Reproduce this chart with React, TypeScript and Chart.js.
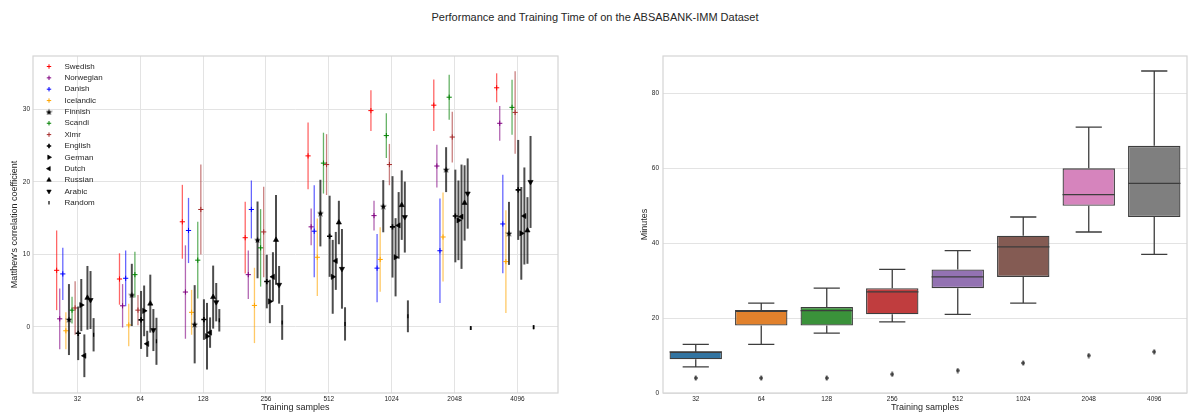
import React, { useEffect, useRef } from 'react';
import { Chart, registerables } from 'chart.js';
import { drawPoint } from 'chart.js/helpers';

Chart.register(...registerables);

// ---------- data ----------
const categories = ['32', '64', '128', '256', '512', '1024', '2048', '4096'];
const leftYTicks = [0, 10, 20, 30];
const rightYTicks = [0, 20, 40, 60, 80];

const seriesNames = ['Swedish', 'Norwegian', 'Danish', 'Icelandic', 'Finnish', 'Scandi', 'Xlmr', 'English', 'German', 'Dutch', 'Russian', 'Arabic', 'Random'];

const swedishMean = [7.8, 6.6, 14.5, 12.3, 23.6, 29.85, 30.6, 33.0];
const swedishErr = [5.5, 3.55, 5.1, 4.95, 4.6, 2.8, 3.55, 2.0];
const norwegianMean = [1.1, 2.9, 4.8, 7.2, 13.8, 15.35, 22.2, 28.1];
const norwegianErr = [4.2, 3.0, 6.45, 3.35, 2.55, 2.05, 2.95, 2.4];
const danishMean = [7.3, 6.7, 13.3, 16.2, 13.2, 8.1, 10.5, 14.2];
const danishErr = [3.6, 3.85, 4.5, 4.0, 6.35, 4.7, 7.2, 6.8];
const icelandicMean = [-0.55, 0.25, 2.0, 2.95, 9.6, 9.3, 12.4, 9.0];
const icelandicErr = [2.55, 2.95, 3.1, 5.2, 5.35, 4.45, 6.15, 7.1];
const finnishMean = [1.0, 4.4, 0.35, 12.0, 15.7, 16.65, 21.7, 12.9];
const finnishErr = [4.9, 4.3, 5.4, 5.3, 4.6, 3.6, 3.1, 4.35];
const scandiMean = [2.3, 7.2, 9.2, 10.9, 22.6, 26.4, 31.7, 30.3];
const scandiErr = [1.85, 3.15, 5.3, 5.35, 4.2, 3.1, 3.1, 3.8];
const xlmrMean = [2.6, 2.3, 16.2, 13.1, 22.4, 22.4, 26.2, 29.6];
const xlmrErr = [3.7, 2.1, 6.2, 6.25, 4.2, 2.85, 3.5, 5.7];
const englishMean = [-0.9, 0.95, 1.0, 6.25, 12.5, 13.8, 15.3, 18.9];
const englishErr = [3.7, 4.0, 2.8, 3.7, 5.6, 7.0, 6.4, 6.9];
const germanMean = [3.0, 2.2, -1.3, 3.5, 6.9, 9.6, 14.7, 12.9];
const germanErr = [3.6, 3.5, 4.6, 3.0, 5.1, 5.4, 5.5, 6.4];
const dutchMean = [-4.0, -2.35, -0.8, 6.9, 9.1, 14.0, 15.2, 15.3];
const dutchErr = [2.95, 1.8, 2.1, 3.4, 4.0, 4.6, 7.2, 6.7];
const russianMean = [4.0, 3.2, 4.1, 12.0, 14.4, 16.8, 17.1, 13.3];
const russianErr = [4.4, 4.0, 4.35, 6.2, 3.0, 4.8, 5.2, 4.6];
const arabicMean = [3.7, -0.45, 3.4, 5.8, 8.0, 15.15, 18.4, 20.0];
const arabicErr = [4.0, 2.9, 2.65, 2.6, 5.5, 4.9, 4.85, 6.35];
const randomMean = [-1.1, -2.0, 0.9, 0.6, 0.4, 1.45, -0.18, -0.05];
const randomErr = [2.3, 3.25, 1.55, 2.4, 2.3, 2.2, 0.25, 0.28];

const boxWhiskerLow = [7, 13, 16, 19, 21, 24, 43, 37];
const boxQ1 = [9, 18, 18, 21, 28, 31, 50, 47];
const boxMedian = [11, 22, 22, 27, 31, 39, 53, 56];
const boxQ3 = [11, 22, 23, 28, 33, 42, 60, 66];
const boxWhiskerHigh = [13, 24, 28, 33, 38, 47, 71, 86];
const boxOutlier = [4, 4, 4, 5, 6, 8, 10, 11];

// ---------- styles ----------
const seriesMeans = [swedishMean, norwegianMean, danishMean, icelandicMean, finnishMean, scandiMean, xlmrMean, englishMean, germanMean, dutchMean, russianMean, arabicMean, randomMean];
const seriesErrs = [swedishErr, norwegianErr, danishErr, icelandicErr, finnishErr, scandiErr, xlmrErr, englishErr, germanErr, dutchErr, russianErr, arabicErr, randomErr];
const seriesColors = ['#ff0000', '#800080', '#0000ff', '#ffa500', '#000000', '#008000', '#a52a2a', '#000000', '#000000', '#000000', '#000000', '#000000', '#000000'];
const seriesMarkers = ['cross', 'cross', 'cross', 'cross', 'star', 'cross', 'cross', 'plus', 'right', 'left', 'up', 'down', 'vline'];
const boxColors = ['#3274a1', '#e1812c', '#3a923a', '#c03d3e', '#9372b2', '#845b53', '#d684bd', '#7f7f7f'];

const FONT = "'Liberation Sans', Arial, sans-serif";
const TEXT = '#262626';
const GRID = '#e3e3e3';
const FRAME = '#d4d4d4';
const EDGE = '#3d3d3d';

function rgba(hex: string, a: number) {
  const n = parseInt(hex.slice(1), 16);
  return `rgba(${(n >> 16) & 255},${(n >> 8) & 255},${n & 255},${a})`;
}

function makeStar(size: number, color: string) {
  const c = document.createElement('canvas');
  c.width = size;
  c.height = size;
  const ctx = c.getContext('2d')!;
  const cx = size / 2, cy = size / 2 + 0.4, R = size / 2, r = R * 0.42;
  ctx.beginPath();
  for (let k = 0; k < 10; k++) {
    const rad = k % 2 === 0 ? R : r;
    const a = -Math.PI / 2 + (k * Math.PI) / 5;
    const px = cx + rad * Math.cos(a), py = cy + rad * Math.sin(a);
    if (k === 0) ctx.moveTo(px, py); else ctx.lineTo(px, py);
  }
  ctx.closePath();
  ctx.fillStyle = color;
  ctx.fill();
  return c;
}

function makeThinDiamond(w: number, h: number, color: string) {
  const c = document.createElement('canvas');
  c.width = w;
  c.height = h;
  const ctx = c.getContext('2d')!;
  ctx.beginPath();
  ctx.moveTo(w / 2, 0);
  ctx.lineTo(w, h / 2);
  ctx.lineTo(w / 2, h);
  ctx.lineTo(0, h / 2);
  ctx.closePath();
  ctx.fillStyle = color;
  ctx.fill();
  return c;
}

function markerOptions(m: string, star: HTMLCanvasElement) {
  switch (m) {
    case 'star': return { pointStyle: star as any, rotation: 0, radius: 3.5, borderWidth: 0 };
    case 'plus': return { pointStyle: 'cross', rotation: 0, radius: 2.6, borderWidth: 1.6 };
    case 'right': return { pointStyle: 'triangle', rotation: 90, radius: 3, borderWidth: 0.6 };
    case 'left': return { pointStyle: 'triangle', rotation: -90, radius: 3, borderWidth: 0.6 };
    case 'up': return { pointStyle: 'triangle', rotation: 0, radius: 3, borderWidth: 0.6 };
    case 'down': return { pointStyle: 'triangle', rotation: 180, radius: 3, borderWidth: 0.6 };
    case 'vline': return { pointStyle: 'line', rotation: 90, radius: 2, borderWidth: 1.2 };
    default: return { pointStyle: 'cross', rotation: 0, radius: 2.6, borderWidth: 1 };
  }
}

const framePlugin = {
  id: 'frame',
  beforeDatasetsDraw(chart: any) {
    const { ctx, chartArea: a } = chart;
    ctx.save();
    ctx.strokeStyle = FRAME;
    ctx.lineWidth = 1.2;
    ctx.strokeRect(a.left, a.top, a.right - a.left, a.bottom - a.top);
    ctx.restore();
  },
};

const errorBarPlugin = {
  id: 'errorBars',
  beforeDatasetDraw(chart: any, args: any) {
    const ds = chart.data.datasets[args.index];
    if (!ds.errs) return;
    const y = chart.scales.y;
    const ctx = chart.ctx;
    ctx.save();
    ctx.strokeStyle = ds.errColor;
    ctx.lineWidth = ds.errWidth;
    args.meta.data.forEach((pt: any, i: number) => {
      const v = ds.data[i].y;
      const e = ds.errs[i];
      ctx.beginPath();
      ctx.moveTo(pt.x, y.getPixelForValue(v + e));
      ctx.lineTo(pt.x, y.getPixelForValue(v - e));
      ctx.stroke();
    });
    ctx.restore();
  },
};

const legendPlugin = {
  id: 'innerLegend',
  afterDraw(chart: any) {
    const { ctx, chartArea: a } = chart;
    ctx.save();
    chart.data.datasets.forEach((ds: any, i: number) => {
      const mx = a.left + 16;
      const my = a.top + 10.5 + i * 11.35;
      ctx.fillStyle = ds.pointBackgroundColor;
      ctx.strokeStyle = ds.pointBorderColor;
      ctx.lineWidth = ds.pointBorderWidth;
      drawPoint(ctx, { pointStyle: ds.pointStyle, rotation: ds.pointRotation, radius: ds.pointRadius * 0.85, borderWidth: ds.pointBorderWidth } as any, mx, my);
      ctx.fillStyle = TEXT;
      ctx.font = `8px ${FONT}`;
      ctx.textBaseline = 'middle';
      ctx.textAlign = 'left';
      ctx.fillText(ds.label, a.left + 31.5, my);
    });
    ctx.restore();
  },
};

const boxPlugin = {
  id: 'boxWhiskers',
  afterDatasetDraw(chart: any, args: any) {
    if (args.index !== 0) return;
    const ctx = chart.ctx;
    const y = chart.scales.y;
    ctx.save();
    ctx.strokeStyle = EDGE;
    ctx.lineWidth = 1.3;
    args.meta.data.forEach((bar: any, i: number) => {
      const { x, width } = bar.getProps(['x', 'width'], true);
      const half = width / 2;
      const cap = width / 4;
      const yMed = y.getPixelForValue(boxMedian[i]);
      const yQ1 = y.getPixelForValue(boxQ1[i]);
      const yQ3 = y.getPixelForValue(boxQ3[i]);
      const yLo = y.getPixelForValue(boxWhiskerLow[i]);
      const yHi = y.getPixelForValue(boxWhiskerHigh[i]);
      ctx.beginPath();
      ctx.moveTo(x - half, yMed); ctx.lineTo(x + half, yMed);
      ctx.moveTo(x, yQ3); ctx.lineTo(x, yHi);
      ctx.moveTo(x - cap, yHi); ctx.lineTo(x + cap, yHi);
      ctx.moveTo(x, yQ1); ctx.lineTo(x, yLo);
      ctx.moveTo(x - cap, yLo); ctx.lineTo(x + cap, yLo);
      ctx.stroke();
    });
    ctx.restore();
  },
};

const tickFont = { family: FONT, size: 6.5 };
const titleFont = { family: FONT, size: 9 };

export default function App() {
  const leftRef = useRef<HTMLCanvasElement>(null);
  const rightRef = useRef<HTMLCanvasElement>(null);

  useEffect(() => {
    const star = makeStar(7, '#000000');
    const diamond = makeThinDiamond(4, 6, EDGE);

    const leftDatasets = seriesNames.map((name, s) => {
      const m = markerOptions(seriesMarkers[s], star);
      const color = seriesColors[s];
      const black = color === '#000000';
      return {
        label: name,
        data: seriesMeans[s].map((v, i) => ({ x: i - 0.33 + s * 0.049, y: v })),
        errs: seriesErrs[s],
        errColor: rgba(color, black ? 0.7 : 0.6),
        errWidth: black ? 2 : 1.3,
        pointStyle: m.pointStyle,
        pointRotation: m.rotation,
        pointRadius: m.radius,
        pointHoverRadius: m.radius,
        pointBorderWidth: m.borderWidth,
        pointBorderColor: color,
        pointBackgroundColor: color,
        order: seriesNames.length - s,
      } as any;
    });

    const left = new Chart(leftRef.current!, {
      type: 'scatter',
      data: { datasets: leftDatasets },
      options: {
        animation: false,
        responsive: false,
        events: [],
        layout: { padding: { left: 0, top: 26, right: 37, bottom: 0 } },
        plugins: { legend: { display: false }, tooltip: { enabled: false } },
        scales: {
          x: {
            type: 'linear',
            min: -0.706,
            max: 7.646,
            afterBuildTicks: (sc: any) => { sc.ticks = categories.map((_, i) => ({ value: i })); },
            afterFit: (sc: any) => { sc.height = 26; },
            ticks: { callback: (v: any) => categories[v], font: tickFont, color: TEXT, padding: 2, maxRotation: 0, autoSkip: false },
            grid: { color: GRID, lineWidth: 1, drawTicks: false },
            border: { display: false },
            title: { display: true, text: 'Training samples', font: titleFont, color: TEXT, padding: { top: 0, bottom: 5.6 } },
          },
          y: {
            type: 'linear',
            min: -9.14,
            max: 37.39,
            afterBuildTicks: (sc: any) => { sc.ticks = leftYTicks.map((v) => ({ value: v })); },
            afterFit: (sc: any) => { sc.width = 33; },
            ticks: { font: tickFont, color: TEXT, padding: 3, autoSkip: false },
            grid: { color: GRID, lineWidth: 1, drawTicks: false },
            border: { display: false },
            title: { display: true, text: "Matthew's correlation coefficient", font: titleFont, color: TEXT, padding: { top: 9.6, bottom: 0 } },
          },
        },
      } as any,
      plugins: [framePlugin, errorBarPlugin, legendPlugin],
    });

    const right = new Chart(rightRef.current!, {
      type: 'bar',
      data: {
        labels: categories,
        datasets: [
          {
            type: 'bar',
            label: 'box',
            data: boxQ1.map((q, i) => [q, boxQ3[i]]),
            backgroundColor: boxColors,
            borderColor: EDGE,
            borderWidth: 1.3,
            borderSkipped: false,
            barPercentage: 0.8,
            categoryPercentage: 1.0,
            order: 2,
          },
          {
            type: 'line',
            label: 'outliers',
            data: boxOutlier,
            showLine: false,
            pointStyle: diamond as any,
            pointRadius: 3,
            pointHoverRadius: 3,
            pointBackgroundColor: EDGE,
            pointBorderColor: EDGE,
            pointBorderWidth: 0,
            order: 1,
          },
        ],
      } as any,
      options: {
        animation: false,
        responsive: false,
        events: [],
        layout: { padding: { left: 0, top: 26, right: 3, bottom: 0 } },
        plugins: { legend: { display: false }, tooltip: { enabled: false } },
        scales: {
          x: {
            type: 'category',
            afterFit: (sc: any) => { sc.height = 26; },
            ticks: { font: tickFont, color: TEXT, padding: 2, maxRotation: 0, autoSkip: false },
            grid: { display: false, drawTicks: false },
            border: { display: false },
            title: { display: true, text: 'Training samples', font: titleFont, color: TEXT, padding: { top: 0, bottom: 5.6 } },
          },
          y: {
            type: 'linear',
            min: 0,
            max: 90,
            afterBuildTicks: (sc: any) => { sc.ticks = rightYTicks.map((v) => ({ value: v })); },
            afterFit: (sc: any) => { sc.width = 68; },
            ticks: { font: tickFont, color: TEXT, padding: 4, autoSkip: false },
            grid: { color: GRID, lineWidth: 1, drawTicks: false },
            border: { display: false },
            title: { display: true, text: 'Minutes', font: titleFont, color: TEXT, padding: { top: 44.6, bottom: 0 } },
          },
        },
      } as any,
      plugins: [framePlugin, boxPlugin],
    });

    return () => {
      left.destroy();
      right.destroy();
    };
  }, []);

  return (
    <div style={{ position: 'absolute', left: 0, top: 0, width: 1190, height: 419, background: '#ffffff', fontFamily: FONT }}>
      <div style={{ position: 'absolute', left: 0, top: 10, width: 1190, textAlign: 'center', fontSize: 11, lineHeight: '14px', color: TEXT }}>
        Performance and Training Time of on the ABSABANK-IMM Dataset
      </div>
      <div style={{ position: 'absolute', left: 0, top: 30, width: 595, height: 389 }}>
        <canvas ref={leftRef} width={595} height={389} style={{ display: 'block' }} />
      </div>
      <div style={{ position: 'absolute', left: 595, top: 30, width: 595, height: 389 }}>
        <canvas ref={rightRef} width={595} height={389} style={{ display: 'block' }} />
      </div>
    </div>
  );
}
